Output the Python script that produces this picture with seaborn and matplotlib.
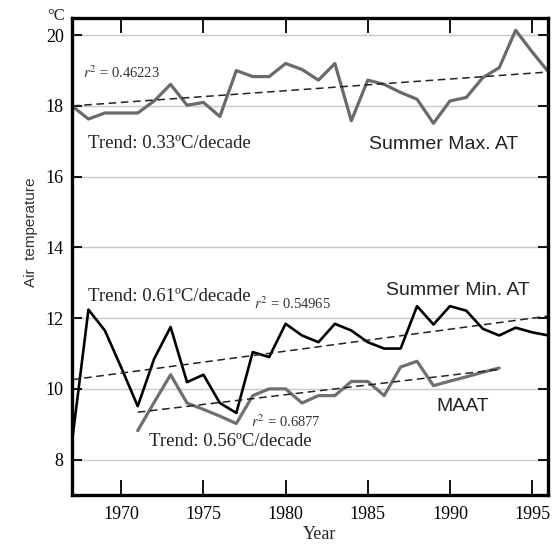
import numpy as np
import pandas as pd
import seaborn as sns
import matplotlib
matplotlib.use("Agg")
import matplotlib.pyplot as plt

# ---- data ----
years_max = list(range(1967, 1997))
summer_max = [18.0, 17.63, 17.8, 17.8, 17.8, 18.14, 18.61, 18.02, 18.1, 17.7,
              19.0, 18.83, 18.83, 19.2, 19.03, 18.73, 19.2, 17.58, 18.73, 18.61,
              18.38, 18.19, 17.51, 18.14, 18.24, 18.8, 19.08, 20.14, 19.53, 18.96]

years_min = list(range(1967, 1997))
summer_min = [8.5, 12.24, 11.65, 10.6, 9.51, 10.85, 11.75, 10.19, 10.4, 9.6,
              9.32, 11.04, 10.9, 11.84, 11.51, 11.32, 11.84, 11.65, 11.32, 11.14,
              11.14, 12.34, 11.82, 12.34, 12.21, 11.7, 11.51, 11.73, 11.6, 11.51]

years_maat = list(range(1971, 1994))
maat = [8.82, 9.62, 10.4, 9.6, 9.42, 9.23, 9.02, 9.81, 10.0, 10.0,
        9.6, 9.81, 9.81, 10.21, 10.21, 9.81, 10.62, 10.78, 10.09, 10.22,
        10.34, 10.47, 10.59]

trend_max_years = [1967, 1996]
trend_max_vals = [18.0, 18.96]
trend_min_years = [1967, 1996]
trend_min_vals = [10.26, 12.06]
trend_maat_years = [1971, 1993]
trend_maat_vals = [9.34, 10.55]

yticks = [8, 10, 12, 14, 16, 18, 20]
xticks = [1970, 1975, 1980, 1985, 1990, 1995]

# ---- plotting ----
sns.set_theme(style="white")
plt.rcParams['font.family'] = ['Liberation Serif', 'DejaVu Serif']
plt.rcParams['mathtext.fontset'] = 'stix'

fig = plt.figure(figsize=(5.56, 5.44), dpi=100)
ax = fig.add_axes([0.1295, 0.0901, 0.857, 0.8777])

for yv in yticks:
    ax.axhline(yv, color='#c8c8c8', lw=1.0, zorder=0)

sns.lineplot(x=years_max, y=summer_max, ax=ax, color='#6a6a6a', lw=2.3)
sns.lineplot(x=years_min, y=summer_min, ax=ax, color='black', lw=1.9)
sns.lineplot(x=years_maat, y=maat, ax=ax, color='#707070', lw=2.3)

for ty, tv in [(trend_max_years, trend_max_vals), (trend_min_years, trend_min_vals),
               (trend_maat_years, trend_maat_vals)]:
    sns.lineplot(x=ty, y=tv, ax=ax, color='#222222', lw=1.1, linestyle=(0, (5, 3)))

ax.set_xlim(1967, 1996)
ax.set_ylim(7, 20.5)
ax.set_xticks(xticks)
ax.set_yticks(yticks)
ax.tick_params(axis='x', direction='in', length=11, width=1.3, top=True, bottom=True,
               labelsize=13, pad=8, colors='black')
ax.tick_params(axis='y', direction='in', length=7, width=1.3, left=True, right=True,
               labelsize=13, pad=6, colors='black')
for sp in ax.spines.values():
    sp.set_color('black')
    sp.set_linewidth(2.4)

ax.set_xlabel('Year', fontsize=13)
ax.xaxis.set_label_coords(0.52, -0.066)
ax.set_ylabel('Air  temperature', fontsize=11, family=['Liberation Sans'], color='#333333')
ax.yaxis.set_label_coords(-0.071, 0.55)

fig.text(47 / 556, 1 - 16 / 544, '°C', fontsize=12, ha='left', va='center')

# annotations (data coordinates)
ax.text(1970.0, 18.95, r'$r^2$ = 0.46223', fontsize=10.5, ha='center', va='center',
        color='#333333')
ax.text(1968.0, 16.95, 'Trend: 0.33ºC/decade', fontsize=13.5, ha='left', va='center',
        color='#222222')
ax.text(1985.1, 16.9, 'Summer Max. AT', fontsize=14, ha='left', va='center',
        family=['Liberation Sans'], color='#222222')
ax.text(1968.0, 12.6, 'Trend: 0.61ºC/decade', fontsize=13.5, ha='left', va='center',
        color='#222222')
ax.text(1980.4, 12.4, r'$r^2$ = 0.54965', fontsize=10.5, ha='center', va='center',
        color='#333333')
ax.text(1986.1, 12.77, 'Summer Min. AT', fontsize=14, ha='left', va='center',
        family=['Liberation Sans'], color='#222222')
ax.text(1990.8, 9.5, 'MAAT', fontsize=14, ha='center', va='center',
        family=['Liberation Sans'], color='#222222')
ax.text(1980.0, 9.06, r'$r^2$ = 0.6877', fontsize=10.5, ha='center', va='center',
        color='#333333')
ax.text(1971.7, 8.5, 'Trend: 0.56ºC/decade', fontsize=13.5, ha='left', va='center',
        color='#222222')

fig.savefig('out.png', dpi=100)
